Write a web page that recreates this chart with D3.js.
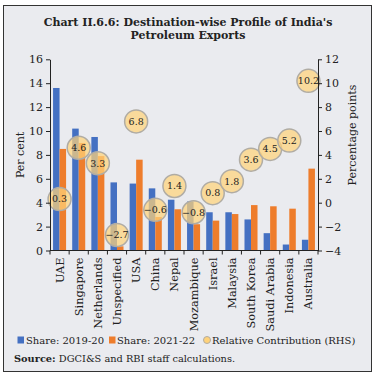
<!DOCTYPE html>
<html>
<head>
<meta charset="utf-8">
<script src="https://cdn.jsdelivr.net/npm/d3@7"></script>
<style>
  html, body { margin: 0; padding: 0; background: #fff; }
  svg text { font-family: "DejaVu Serif", serif; fill: #222; }
</style>
</head>
<body>
<svg id="chart" width="374" height="378"></svg>
<script>
// DATA
const countries = ['UAE', 'Singapore', 'Netherlands', 'Unspecified', 'USA', 'China', 'Nepal',
  'Mozambique', 'Israel', 'Malaysia', 'South Korea', 'Saudi Arabia', 'Indonesia', 'Australia'];
const share2019 = [13.6, 10.2, 9.5, 5.7, 5.6, 5.2, 4.25, 4.1, 3.2, 3.2, 2.6, 1.45, 0.5, 0.9];
const share2021 = [8.5, 9.0, 7.9, 0.35, 7.6, 2.8, 3.45, 2.2, 2.5, 3.05, 3.8, 3.7, 3.5, 6.85];
const contribution = [0.3, 4.6, 3.3, -2.7, 6.8, -0.6, 1.4, -0.8, 0.8, 1.8, 3.6, 4.5, 5.2, 10.2];
const leftTicks = [0, 2, 4, 6, 8, 10, 12, 14, 16];
const rightTicks = [-4, -2, 0, 2, 4, 6, 8, 10, 12];

const blue = '#4470c2';
const orange = '#ee7d2c';

const svg = d3.select('#chart');

// BACKGROUND AND FRAME
svg.append('rect')
  .attr('x', 3.5).attr('y', 5.5)
  .attr('width', 368).attr('height', 366)
  .attr('fill', '#eaebef')
  .attr('stroke', '#333')
  .attr('stroke-width', 1);

// TITLE
const title = svg.append('text')
  .attr('text-anchor', 'middle')
  .style('font-size', '11px')
  .style('font-weight', 'bold');
title.append('tspan').attr('x', 188).attr('y', 26).text("Chart II.6.6: Destination-wise Profile of India's");
title.append('tspan').attr('x', 188).attr('y', 38.5).text('Petroleum Exports');

// SCALES
const plotLeft = 50, plotRight = 318, plotTop = 59.3, plotBottom = 250.5;
const x = d3.scaleBand().domain(countries).range([plotLeft, plotRight]).padding(0);
const xInner = d3.scaleBand().domain(['a', 'b']).range([0, x.bandwidth()])
  .paddingInner(0).paddingOuter(0.47);
const yL = d3.scaleLinear().domain([0, 16]).range([plotBottom, plotTop]);
const yR = d3.scaleLinear().domain([-4, 12]).range([plotBottom, plotTop]);

// BARS
const plot = svg.append('g');
plot.selectAll('rect.s19')
  .data(countries)
  .join('rect')
  .attr('class', 's19')
  .attr('x', (d) => x(d) + xInner('a'))
  .attr('width', xInner.bandwidth())
  .attr('y', (d, i) => yL(share2019[i]))
  .attr('height', (d, i) => yL(0) - yL(share2019[i]))
  .attr('fill', blue);
plot.selectAll('rect.s21')
  .data(countries)
  .join('rect')
  .attr('class', 's21')
  .attr('x', (d) => x(d) + xInner('b'))
  .attr('width', xInner.bandwidth())
  .attr('y', (d, i) => yL(share2021[i]))
  .attr('height', (d, i) => yL(0) - yL(share2021[i]))
  .attr('fill', orange);

// BUBBLES
const bubbles = plot.selectAll('g.bubble')
  .data(countries)
  .join('g')
  .attr('class', 'bubble')
  .attr('transform', (d, i) => `translate(${x(d) + x.bandwidth() / 2},${yR(contribution[i])})`);
bubbles.append('circle')
  .attr('r', 11.5)
  .attr('fill', '#ffd27a')
  .attr('fill-opacity', 0.72)
  .attr('stroke', '#b0aca4')
  .attr('stroke-width', 1.5);
bubbles.append('text')
  .attr('text-anchor', 'middle')
  .attr('dy', '0.35em')
  .style('font-size', '9.5px')
  .text((d, i) => d3.format('.1f')(contribution[i]));

// AXES
const axisStyle = (g) => {
  g.selectAll('path, line').attr('stroke', '#222');
  g.selectAll('text').style('font-size', '11px').style('font-family', '"DejaVu Serif", serif').attr('fill', '#222');
};
svg.append('g')
  .attr('transform', `translate(${plotLeft},0)`)
  .call(d3.axisLeft(yL).tickValues(leftTicks).tickSize(4).tickSizeOuter(0))
  .call(axisStyle);
svg.append('g')
  .attr('transform', `translate(${plotRight},0)`)
  .call(d3.axisRight(yR).tickValues(rightTicks).tickSize(4).tickSizeOuter(0))
  .call(axisStyle);

// X AXIS: boundary ticks and rotated labels
const xg = svg.append('g');
xg.append('line')
  .attr('x1', plotLeft).attr('x2', plotRight)
  .attr('y1', plotBottom).attr('y2', plotBottom)
  .attr('stroke', '#222');
xg.selectAll('line.tick')
  .data(countries.concat(['end']))
  .join('line')
  .attr('class', 'tick')
  .attr('x1', (d, i) => plotLeft + i * x.step())
  .attr('x2', (d, i) => plotLeft + i * x.step())
  .attr('y1', plotBottom).attr('y2', plotBottom + 4)
  .attr('stroke', '#222');
xg.selectAll('text')
  .data(countries)
  .join('text')
  .attr('transform', (d) => `translate(${x(d) + x.bandwidth() / 2},${plotBottom + 7}) rotate(-90)`)
  .attr('text-anchor', 'end')
  .attr('dy', '0.35em')
  .style('font-size', '11.3px')
  .text((d) => d);

// AXIS TITLES
svg.append('text')
  .attr('transform', `translate(20,${(plotTop + plotBottom) / 2}) rotate(-90)`)
  .attr('text-anchor', 'middle')
  .attr('dy', '0.35em')
  .style('font-size', '11px')
  .text('Per cent');
svg.append('text')
  .attr('transform', `translate(352,135) rotate(-90)`)
  .attr('text-anchor', 'middle')
  .attr('dy', '0.35em')
  .style('font-size', '11px')
  .text('Percentage points');

// LEGEND
const legend = svg.append('g').attr('transform', 'translate(0,340)');
legend.append('rect').attr('x', 17.5).attr('y', -3.5).attr('width', 6.5).attr('height', 7).attr('fill', blue);
legend.append('text').attr('x', 26).attr('dy', '0.35em').style('font-size', '10px').text('Share: 2019-20');
legend.append('rect').attr('x', 109).attr('y', -3.5).attr('width', 6.5).attr('height', 7).attr('fill', orange);
legend.append('text').attr('x', 117).attr('dy', '0.35em').style('font-size', '10px').text('Share: 2021-22');
legend.append('circle').attr('cx', 207).attr('cy', 0).attr('r', 3.5)
  .attr('fill', '#ffd27a').attr('stroke', '#b0aca4').attr('stroke-width', 1);
legend.append('text').attr('x', 212).attr('dy', '0.35em').style('font-size', '10px').text('Relative Contribution (RHS)');

// SOURCE
const src = svg.append('text').attr('x', 14).attr('y', 361.5).style('font-size', '9.8px');
src.append('tspan').style('font-weight', 'bold').text('Source:');
src.append('tspan').text(' DGCI&S and RBI staff calculations.');
</script>
</body>
</html>
